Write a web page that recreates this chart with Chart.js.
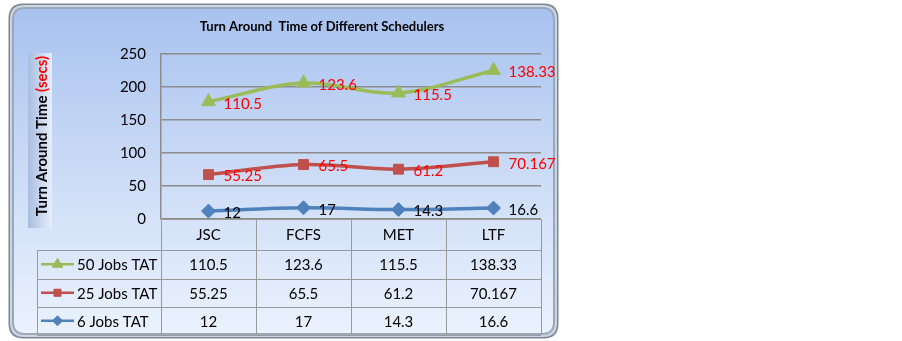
<!DOCTYPE html>
<html>
<head>
<meta charset="utf-8">
<script src="https://cdn.jsdelivr.net/npm/chart.js@4.4.1/dist/chart.umd.min.js"></script>
<style>
  html, body { margin: 0; padding: 0; background: #fff; }
  #wrap { position: relative; width: 902px; height: 341px; }
</style>
</head>
<body>
<div id="wrap"><canvas id="tatChart" width="902" height="341"></canvas></div>
<script>
const categories = ['JSC', 'FCFS', 'MET', 'LTF'];
const jobs6 = [12, 17, 14.3, 16.6];
const jobs25 = [55.25, 65.5, 61.2, 70.167];
const jobs50 = [110.5, 123.6, 115.5, 138.33];
const seriesNames = ['50 Jobs TAT', '25 Jobs TAT', '6 Jobs TAT'];
const yTicks = [0, 50, 100, 150, 200, 250];

const FONT = 'Lato, "Open Sans", sans-serif';

function roundRect(ctx, x, y, w, h, r) {
    ctx.beginPath();
    ctx.moveTo(x + r, y);
    ctx.lineTo(x + w - r, y);
    ctx.quadraticCurveTo(x + w, y, x + w, y + r);
    ctx.lineTo(x + w, y + h - r);
    ctx.quadraticCurveTo(x + w, y + h, x + w - r, y + h);
    ctx.lineTo(x + r, y + h);
    ctx.quadraticCurveTo(x, y + h, x, y + h - r);
    ctx.lineTo(x, y + r);
    ctx.quadraticCurveTo(x, y, x + r, y);
    ctx.closePath();
}

// frame, background gradient, title and y axis title
const framePlugin = {
    id: 'frame',
    beforeDraw(chart) {
        const ctx = chart.ctx;
        ctx.save();
        roundRect(ctx, 8.5, 3.5, 550, 335, 15);
        ctx.fillStyle = '#7c8795';
        ctx.fill();
        roundRect(ctx, 10, 5, 547, 332, 14);
        ctx.fillStyle = '#cdd5e0';
        ctx.fill();
        roundRect(ctx, 12, 7, 543, 328, 13);
        ctx.fillStyle = '#9aa8be';
        ctx.fill();
        const g = ctx.createLinearGradient(0, 9, 0, 334);
        g.addColorStop(0, '#a8c2ef');
        g.addColorStop(0.55, '#cfdef7');
        g.addColorStop(1, '#eaf2fd');
        roundRect(ctx, 14, 9, 539, 324, 11);
        ctx.fillStyle = g;
        ctx.fill();

        // title
        ctx.fillStyle = '#000';
        ctx.font = 'bold 13px ' + FONT;
        ctx.textAlign = 'center';
        ctx.textBaseline = 'middle';
        ctx.fillText('Turn Around  Time of Different Schedulers', 322, 27);

        // y axis title box
        const bg = ctx.createLinearGradient(28, 0, 52, 0);
        bg.addColorStop(0, '#a9bde0');
        bg.addColorStop(1, '#e6eefa');
        ctx.fillStyle = bg;
        ctx.fillRect(28, 53, 24, 175);

        ctx.translate(42, 136);
        ctx.rotate(-Math.PI / 2);
        ctx.font = 'bold 15px ' + FONT;
        const a = 'Turn Around Time ';
        const b = '(secs)';
        const wa = ctx.measureText(a).width;
        const wb = ctx.measureText(b).width;
        const start = -(wa + wb) / 2;
        ctx.textAlign = 'left';
        ctx.fillStyle = '#000';
        ctx.fillText(a, start, 0);
        ctx.fillStyle = '#ff0000';
        ctx.fillText(b, start + wa, 0);
        ctx.restore();
    }
};

// value labels next to the points
const labelPlugin = {
    id: 'pointLabels',
    afterDatasetsDraw(chart) {
        const ctx = chart.ctx;
        ctx.save();
        ctx.font = '15px ' + FONT;
        ctx.textAlign = 'left';
        ctx.textBaseline = 'middle';
        chart.data.datasets.forEach((ds, i) => {
            const meta = chart.getDatasetMeta(i);
            ctx.fillStyle = ds.labelColor;
            meta.data.forEach((pt, j) => {
                ctx.fillText(String(ds.data[j]), pt.x + 15, pt.y + 2);
            });
        });
        ctx.restore();
    }
};

// data table under the plot
const tablePlugin = {
    id: 'dataTable',
    afterDraw(chart) {
        const ctx = chart.ctx;
        const area = chart.chartArea;
        const xs = chart.scales.x;
        const step = (area.right - area.left) / categories.length;
        const top = area.bottom;
        const rowH = [31, 28.5, 28.5, 27.5];
        const legendLeft = 37;
        const ys = [top];
        rowH.forEach(h => ys.push(ys[ys.length - 1] + h));

        ctx.save();
        ctx.strokeStyle = '#9a9a9a';
        ctx.lineWidth = 1;
        // horizontal lines
        ctx.beginPath();
        ctx.moveTo(area.left, Math.round(ys[0]) + 0.5);
        ctx.lineTo(area.right, Math.round(ys[0]) + 0.5);
        for (let r = 1; r < ys.length; r++) {
            ctx.moveTo(legendLeft, Math.round(ys[r]) + 0.5);
            ctx.lineTo(area.right, Math.round(ys[r]) + 0.5);
        }
        // vertical lines
        for (let c = 0; c <= categories.length; c++) {
            const x = Math.round(area.left + c * step) + 0.5;
            ctx.moveTo(x, ys[0]);
            ctx.lineTo(x, ys[ys.length - 1]);
        }
        ctx.moveTo(legendLeft + 0.5, ys[1]);
        ctx.lineTo(legendLeft + 0.5, ys[ys.length - 1]);
        ctx.stroke();

        ctx.fillStyle = '#000';
        ctx.font = '15px ' + FONT;
        ctx.textAlign = 'center';
        ctx.textBaseline = 'middle';
        categories.forEach((c, i) => {
            ctx.fillText(c, xs.getPixelForValue(i), (ys[0] + ys[1]) / 2 + 1);
        });

        // rows from top: 50, 25, 6 jobs (datasets are stacked 6, 25, 50)
        const rows = [jobs50, jobs25, jobs6];
        rows.forEach((vals, r) => {
            const cy = (ys[r + 1] + ys[r + 2]) / 2;
            ctx.fillStyle = '#000';
            ctx.textAlign = 'center';
            vals.forEach((v, i) => {
                ctx.fillText(String(v), xs.getPixelForValue(i), cy + 1);
            });
            const ds = chart.data.datasets[2 - r];
            ctx.strokeStyle = ds.borderColor;
            ctx.lineWidth = 2.5;
            ctx.beginPath();
            ctx.moveTo(41, cy);
            ctx.lineTo(74, cy);
            ctx.stroke();
            ctx.fillStyle = ds.backgroundColor;
            ctx.lineWidth = 1;
            Chart.helpers.drawPoint(ctx, {
                pointStyle: ds.pointStyle,
                radius: ds.pointRadius - 2,
                borderWidth: 1
            }, 57.5, cy);
            ctx.fillStyle = '#000';
            ctx.textAlign = 'left';
            ctx.fillText(seriesNames[r], 77, cy + 1);
        });
        ctx.restore();
    }
};

const ctx = document.getElementById('tatChart').getContext('2d');
const tatChart = new Chart(ctx, {
    type: 'line',
    data: {
        labels: categories,
        datasets: [
            {
                label: seriesNames[2],
                data: jobs6,
                borderColor: '#4f81bd',
                backgroundColor: '#4f81bd',
                pointStyle: 'rectRot',
                pointRadius: 7,
                labelColor: '#000000'
            },
            {
                label: seriesNames[1],
                data: jobs25,
                borderColor: '#c0504d',
                backgroundColor: '#c0504d',
                pointStyle: 'rect',
                pointRadius: 7,
                labelColor: '#ff0000'
            },
            {
                label: seriesNames[0],
                data: jobs50,
                borderColor: '#9bbb59',
                backgroundColor: '#9bbb59',
                pointStyle: 'triangle',
                pointRadius: 8,
                labelColor: '#ff0000'
            }
        ]
    },
    options: {
        responsive: false,
        animation: false,
        layout: {
            padding: { left: 0, top: 54, right: 361, bottom: 122 }
        },
        elements: {
            line: { borderWidth: 3.5, tension: 0.35, fill: false },
            point: { borderWidth: 1, hoverRadius: 7 }
        },
        plugins: {
            legend: { display: false },
            title: { display: false },
            tooltip: { enabled: false }
        },
        scales: {
            x: {
                display: false,
                offset: true
            },
            y: {
                stacked: true,
                min: 0,
                max: 250,
                afterFit(scale) { scale.width = 161; },
                afterBuildTicks(scale) { scale.ticks = yTicks.map(v => ({ value: v })); },
                grid: {
                    color: '#8c8c8c',
                    lineWidth: 1.5,
                    drawTicks: false
                },
                border: { color: '#8c8c8c', width: 1.5 },
                ticks: {
                    padding: 15,
                    color: '#000',
                    font: { family: FONT, size: 15 }
                }
            }
        }
    },
    plugins: [framePlugin, labelPlugin, tablePlugin]
});
</script>
</body>
</html>
